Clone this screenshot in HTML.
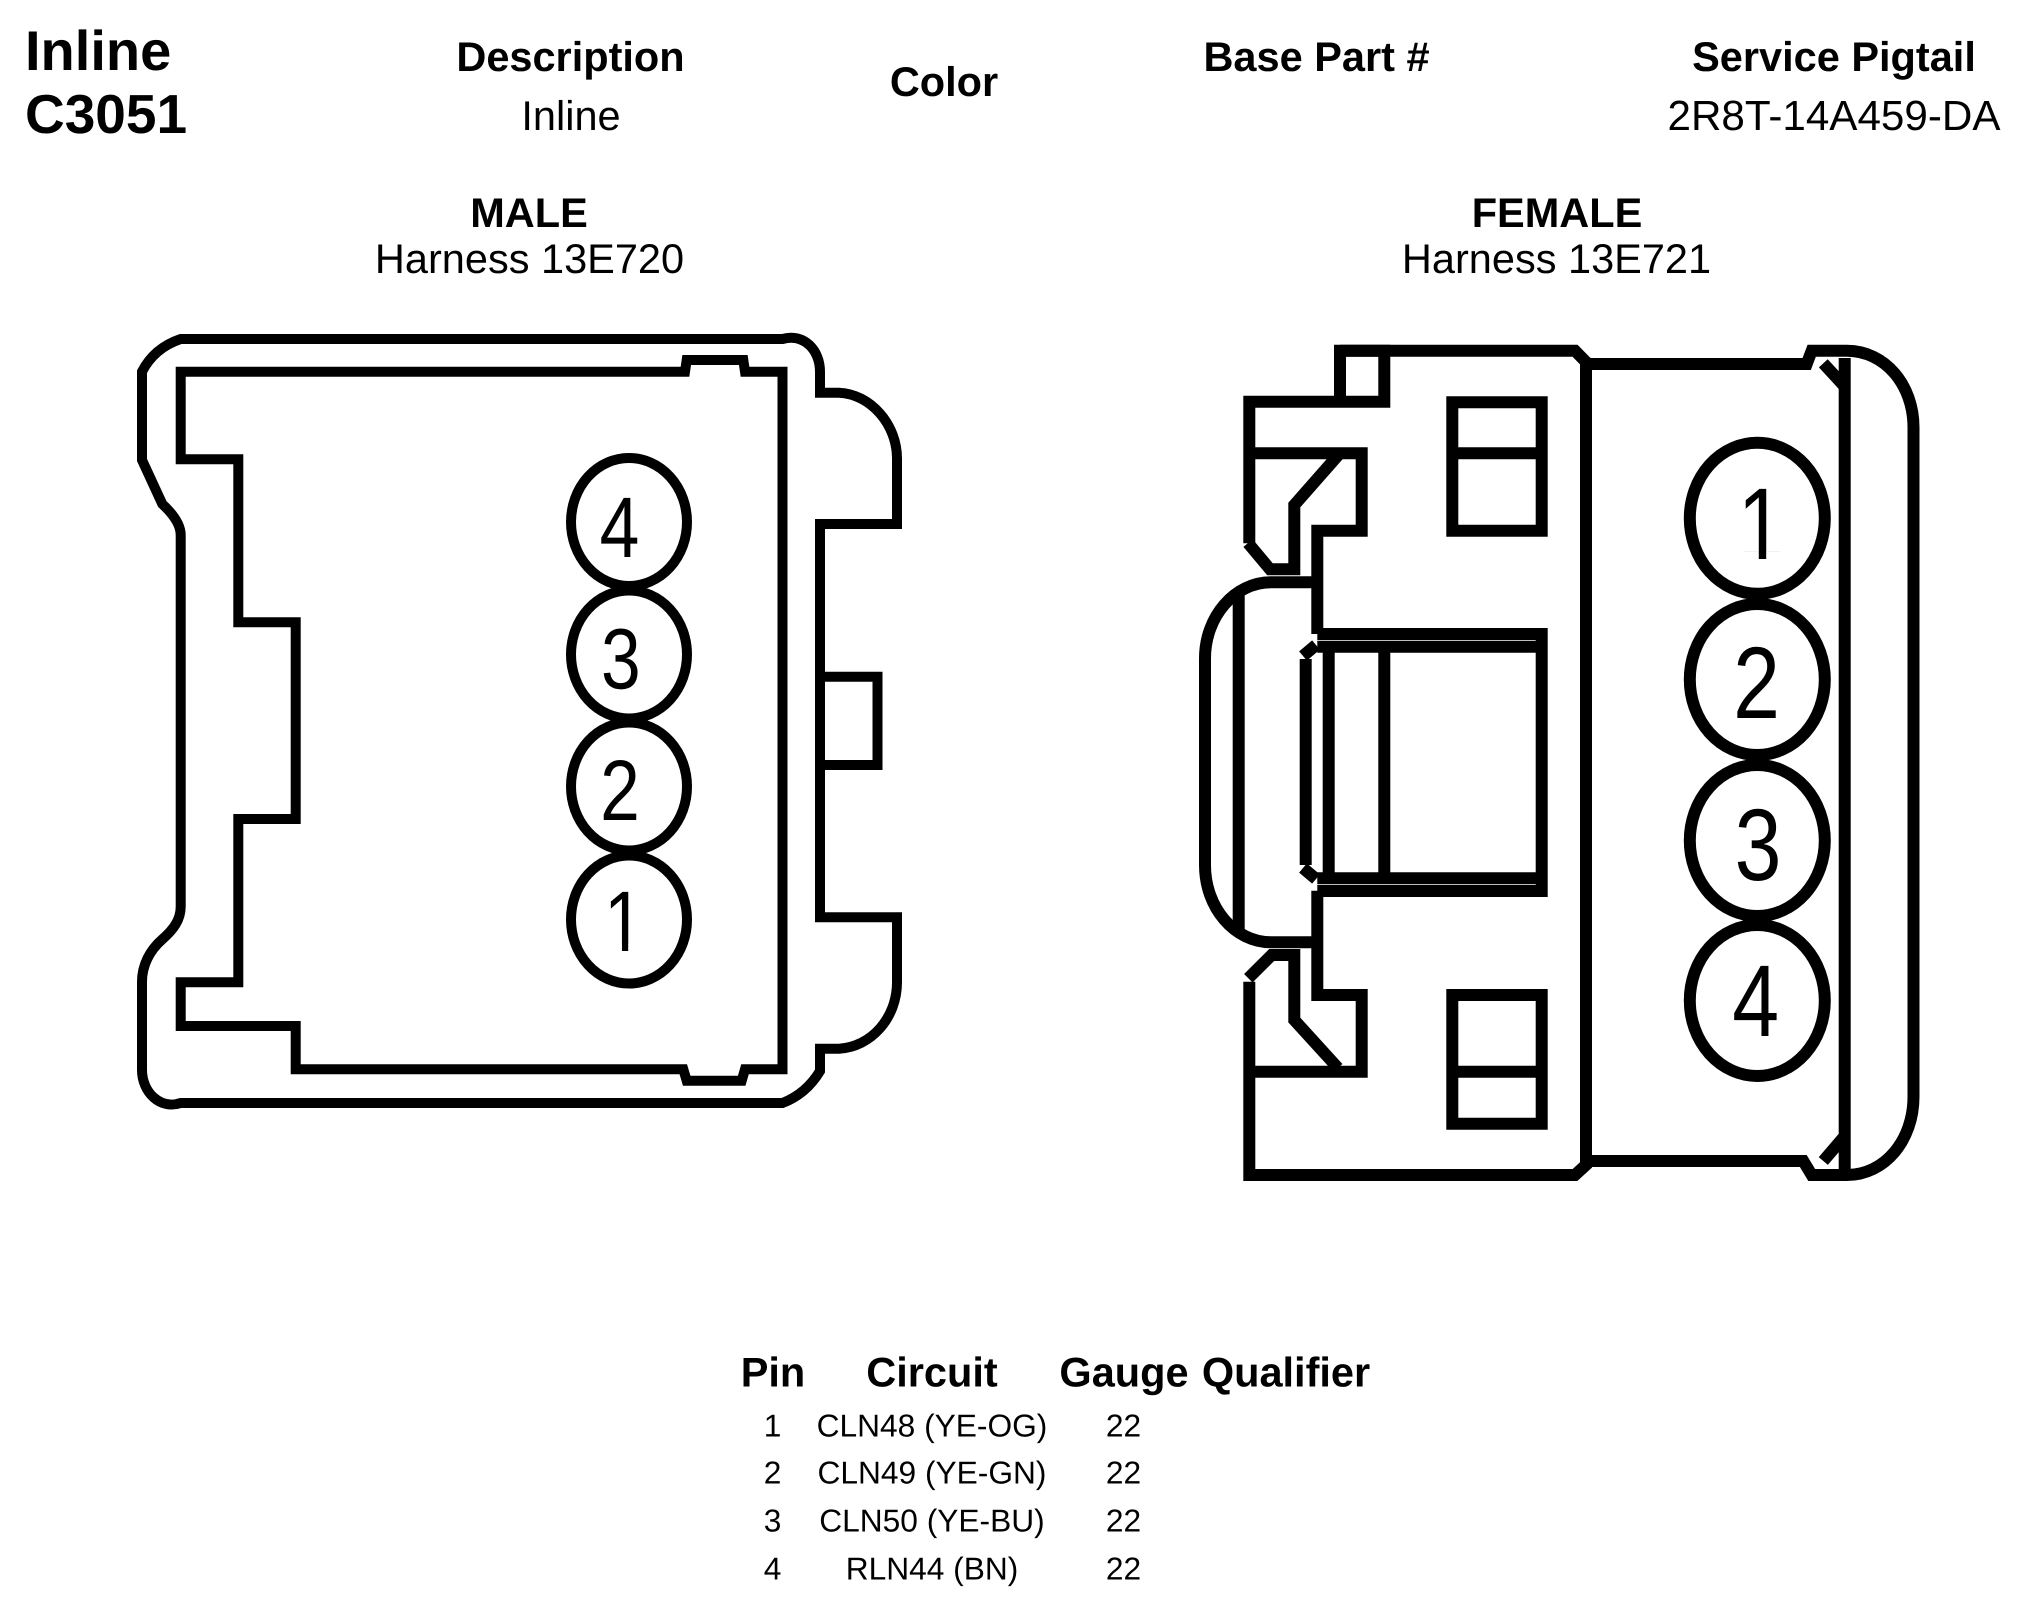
<!DOCTYPE html>
<html><head><meta charset="utf-8"><style>
html,body{margin:0;padding:0;background:#fff}
svg{display:block}
text{font-family:"Liberation Sans",Arial,sans-serif;fill:#000;text-rendering:geometricPrecision}
.b{font-weight:bold;font-size:41.5px;text-anchor:middle}
.r{font-size:41.5px;text-anchor:middle}
.t{font-size:31.7px;text-anchor:middle}
.d{text-anchor:middle}
.m *{fill:none;stroke:#000;stroke-width:10;stroke-linejoin:miter}
.f *{fill:none;stroke:#000;stroke-width:12;stroke-linejoin:miter}
</style></head><body>
<svg xmlns="http://www.w3.org/2000/svg" width="2040" height="1608" viewBox="0 0 2040 1608">
<rect width="2040" height="1608" fill="#fff"/>
<text x="25" y="70" style="font-weight:bold;font-size:56px">Inline</text>
<text x="25" y="133" style="font-weight:bold;font-size:55px">C3051</text>
<text class="b" x="570.5" y="71">Description</text>
<text class="r" x="571" y="130">Inline</text>
<text class="b" x="944" y="96">Color</text>
<text class="b" x="1316.5" y="71">Base Part #</text>
<text class="b" x="1834" y="71">Service Pigtail</text>
<text class="r" x="1834" y="130" style="font-size:42.2px">2R8T-14A459-DA</text>
<text class="b" x="529" y="227">MALE</text>
<text class="r" x="529.5" y="273">Harness 13E720</text>
<text class="b" x="1557" y="227">FEMALE</text>
<text class="r" x="1556.5" y="273">Harness 13E721</text>

<g class="m">
<path d="M180.7 339H782.5C804 333 820 350 820 371.7V392.7H839C871 394 897 425 897 458.3V524H820V917.3H897V982.3C897 1018 871 1047 839 1048.7H820V1071C811 1086 798 1097 782.5 1103H180.7C160 1110 142 1092 142 1070V981.7C142 965 150 950 162.3 939.3C173 930 180.7 920 180.7 906.7V535C180.7 524 172 513 162.3 504L142 460V371.7C150 356 163 345 180.7 339Z"/>
<path d="M180.7 371.7H685L686.7 360H743.3L745 371.7H782.5V1069.3H745L741.7 1080.7H686.7L683.3 1069.3H295.7V1026H180.7V982.3H238.3V819H295.7V622.3H238.3V459.3H180.7Z"/>
<path d="M820 676.7H877.5V765H820"/>
<ellipse cx="629" cy="522" rx="58" ry="64"/>
<ellipse cx="629" cy="654.5" rx="58" ry="64"/>
<ellipse cx="629" cy="786.5" rx="58" ry="64"/>
<ellipse cx="629" cy="919.5" rx="58" ry="64"/>
</g>
<g transform="translate(619.5,557) scale(.83,1)"><text class="d" font-size="86">4</text></g>
<g transform="translate(620.8,688.5) scale(.83,1)"><text class="d" font-size="86">3</text></g>
<g transform="translate(620,820) scale(.83,1)"><text class="d" font-size="86">2</text></g>
<g transform="translate(623.8,951) scale(.83,1)"><text class="d" font-size="86">1</text>
<rect x="-19" y="-6.6" width="16.8" height="8" fill="#fff"/><rect x="5.3" y="-6.6" width="16" height="8" fill="#fff"/></g>

<g class="f">
<path d="M1249.3 543.3V401.7H1384.3V350.7H1340V401.7"/>
<path d="M1340 350.7H1575L1586 362V1165L1575 1175H1249.3V981.7"/>
<path d="M1586 364H1806.7L1811.7 350.7H1846.7C1885 350.7 1913.5 385 1913.5 427.3V1096.7C1913.5 1140 1885 1175 1846.7 1175H1811.7L1803.3 1161H1586"/>
<path d="M1844.7 358V1170"/>
<path d="M1823.3 363.3L1843.3 385M1823.3 1161L1843.3 1137.7"/>
<path d="M1249.3 453.3H1361.7V530.7H1317.3V634"/>
<path d="M1338.3 455L1294.3 505V569.3H1270L1248 543"/>
<path d="M1249.3 1071.7H1361.7V995H1317.3V890.7"/>
<path d="M1338 1068L1294.3 1020V955H1271.7L1248.3 978.3"/>
<path d="M1317.3 582.3H1271C1234.7 582.3 1205 616.5 1205 658.3V865C1205 908 1234.7 942.3 1271 942.3H1317.3"/>
<path d="M1238.7 592V932"/>
<path d="M1317.3 634H1541.7V891H1317.3"/>
<path d="M1317.3 646.7H1541.7M1317.3 878.3H1541.7"/>
<path d="M1328.7 646.7V878M1384.3 646.7V878"/>
<path d="M1305.7 659V865M1303 656L1316 645M1303 868L1316 879"/>
<path d="M1452.3 402.3H1541.7V530.7H1452.3ZM1452.3 453.3H1541.7"/>
<path d="M1452.3 995H1541.7V1123.7H1452.3ZM1452.3 1071.7H1541.7"/>
<ellipse cx="1757.3" cy="518.3" rx="67.5" ry="75.5"/>
<ellipse cx="1757.3" cy="679.5" rx="67.5" ry="75.5"/>
<ellipse cx="1757.3" cy="840.5" rx="67.5" ry="75.5"/>
<ellipse cx="1757.3" cy="1000.5" rx="67.5" ry="75.5"/>
</g>
<g transform="translate(1761,559) scale(.825,1)"><text class="d" font-size="102">1</text>
<rect x="-23" y="-7.8" width="20.3" height="9.5" fill="#fff"/><rect x="6.3" y="-7.8" width="19" height="9.5" fill="#fff"/></g>
<g transform="translate(1756.5,718) scale(.825,1)"><text class="d" font-size="102">2</text></g>
<g transform="translate(1758,880) scale(.825,1)"><text class="d" font-size="102">3</text></g>
<g transform="translate(1755.7,1036) scale(.825,1)"><text class="d" font-size="102">4</text></g>

<text class="b" x="773" y="1386.5">Pin</text>
<text class="b" x="932" y="1386.5">Circuit</text>
<text class="b" x="1124" y="1386.5">Gauge</text>
<text class="b" x="1286" y="1386.5">Qualifier</text>
<text class="t" x="772.5" y="1436.5">1</text><text class="t" x="932" y="1436.5">CLN48 (YE-OG)</text><text class="t" x="1123.5" y="1436.5">22</text>
<text class="t" x="772.5" y="1483.5">2</text><text class="t" x="932" y="1483.5">CLN49 (YE-GN)</text><text class="t" x="1123.5" y="1483.5">22</text>
<text class="t" x="772.5" y="1531.5">3</text><text class="t" x="932" y="1531.5">CLN50 (YE-BU)</text><text class="t" x="1123.5" y="1531.5">22</text>
<text class="t" x="772.5" y="1579.5">4</text><text class="t" x="932" y="1579.5">RLN44 (BN)</text><text class="t" x="1123.5" y="1579.5">22</text>
</svg>
</body></html>
